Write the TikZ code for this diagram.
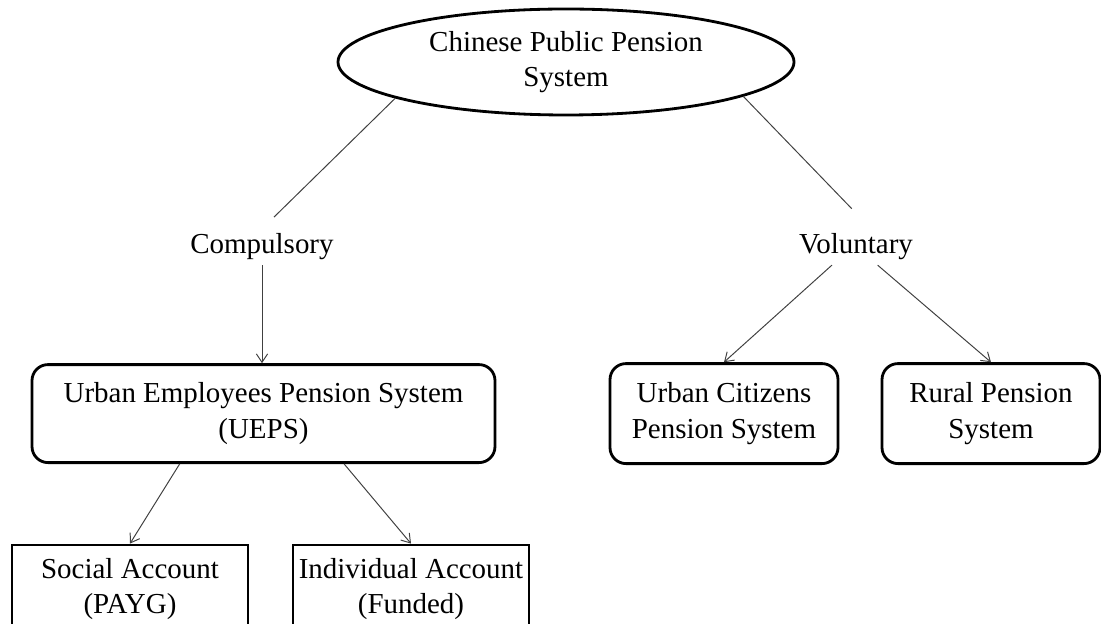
\documentclass[tikz,border=0pt]{standalone}
\usepackage{fontspec}
\setmainfont{Liberation Serif}
\usetikzlibrary{arrows.meta,shapes.geometric,calc}
\tikzset{
  roundbox/.style={draw, line width=2pt, rounded corners=0.4cm, align=center},
  squarebox/.style={draw, line width=2pt, align=center},
  link/.style={draw=black!75, line width=0.7pt},
  arr/.style={link, -{Straight Barb[length=6pt,width=8pt]}}
}
\begin{document}
\begin{tikzpicture}[font=\fontsize{20.6}{25}\selectfont]
        \useasboundingbox (0,0) rectangle (27.525,-15.6);
        \node[ellipse, draw, line width=2pt, inner sep=0pt, minimum width=11.4cm, minimum height=2.65cm, align=center] (cpps) at (14.15,-1.55) {Chinese Public Pension\\System};
        \node (comp) at (6.55,-6.175) {Compulsory};
        \node (vol) at (21.4,-6.175) {Voluntary};
        \node[roundbox, minimum width=11.575cm, minimum height=2.45cm] (ueps) at (6.5875,-10.34) {Urban Employees Pension System\\(UEPS)};
        \node[roundbox, minimum width=5.7cm, minimum height=2.5cm] (urban) at (18.1,-10.34) {Urban Citizens\\Pension System};
        \node[roundbox, minimum width=5.45cm, minimum height=2.5cm] (rural) at (24.775,-10.34) {Rural Pension\\System};
        \node[squarebox, minimum width=5.9cm, minimum height=2.2cm] (social) at (3.25,-14.725) {Social Account\\(PAYG)};
        \node[squarebox, minimum width=5.9cm, minimum height=2.2cm] (indiv) at (10.275,-14.725) {Individual Account\\(Funded)};
        \draw[link, shorten >=0.42cm] (cpps.192) -- (comp.north);
        \draw[link, shorten >=0.7cm] (cpps.349) -- (vol.50);
        \draw[arr] (comp.south) -- (comp.south |- ueps.north);
        \draw[arr] (vol.-143) -- (urban.north);
        \draw[arr] (vol.-40) -- (rural.north);
        \draw[arr] (ueps.-149) -- (social.north);
        \draw[arr] (ueps.-32) -- (indiv.north);
\end{tikzpicture}
\end{document}
